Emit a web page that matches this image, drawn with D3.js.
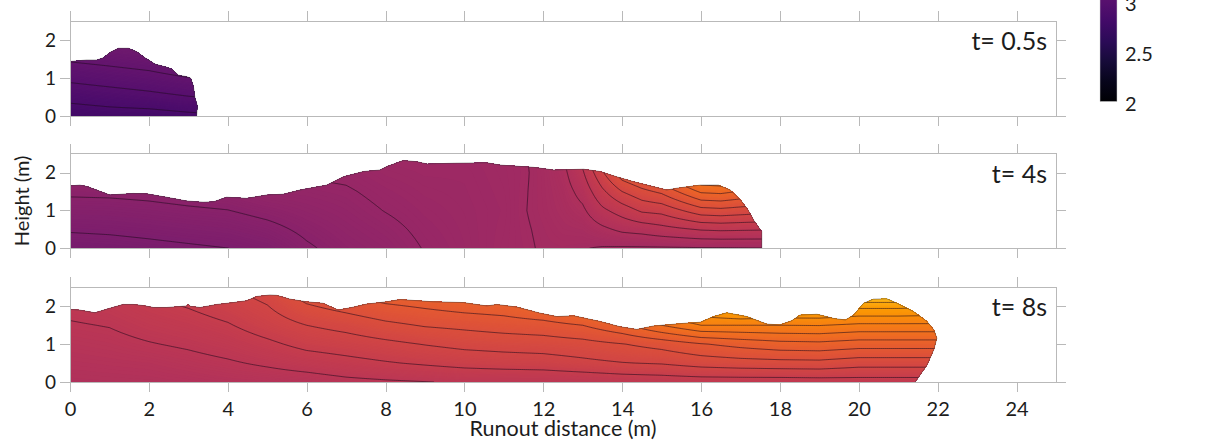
<!DOCTYPE html>
<html>
<head>
<meta charset="utf-8">
<script src="https://cdn.jsdelivr.net/npm/d3@7/dist/d3.min.js"></script>
<style>
  html, body { margin: 0; padding: 0; background: #fff; }
  svg { display: block; }
  text { font-family: Lato, "Open Sans", sans-serif; fill: #1c1c1c; }
</style>
</head>
<body>
<svg id="chart" width="1210" height="443"></svg>
<script>
// ---------- axis ticks ----------
const xTickValues = [0, 2, 4, 6, 8, 10, 12, 14, 16, 18, 20, 22, 24];
const yTickValues = [0, 1, 2];
const colorbarTickValues = [2, 2.5, 3, 3.5, 4, 4.5, 5, 5.5, 6];
const contourLevels = d3.range(2.125, 6.0001, 0.125);

// heights (m) at which each field column is sampled
const heightRows = [0, 0.5, 1, 1.5, 2, 2.5];

// ---------- t = 0.5 s ----------
const p1Label = "t= 0.5s";
const p1Surface = [[0,1.44],[0.42,1.48],[0.68,1.48],[0.85,1.54],[1.01,1.68],[1.23,1.79],[1.48,1.79],
  [1.69,1.70],[1.90,1.54],[2.16,1.37],[2.41,1.30],[2.58,1.24],[2.75,1.08],[2.96,1.04],[3.06,1.0],
  [3.13,0.78],[3.17,0.47],[3.23,0.27],[3.21,0]];
const p1Columns = [0, 1, 2, 3, 3.5];
const p1Field = [
  [2.797, 2.912, 3.027, 3.141, 3.256, 3.37],
  [2.817, 2.937, 3.054, 3.165, 3.275, 3.385],
  [2.820, 2.963, 3.081, 3.191, 3.300, 3.41],
  [2.845, 2.994, 3.120, 3.245, 3.370, 3.49],
  [2.855, 3.005, 3.130, 3.255, 3.380, 3.50]
];

// ---------- t = 4 s ----------
const p2Label = "t= 4s";
const p2Surface = [[0,1.65],[0.25,1.67],[0.44,1.63],[1.01,1.41],[1.6,1.45],[1.94,1.44],[2.45,1.35],
  [2.96,1.25],[3.38,1.22],[3.64,1.23],[3.97,1.35],[4.48,1.32],[4.99,1.41],[5.41,1.43],[5.83,1.54],
  [6.51,1.67],[6.93,1.89],[7.44,2.03],[7.86,2.07],[8.03,2.16],[8.45,2.32],[8.79,2.29],[9.05,2.23],
  [9.81,2.25],[10.57,2.26],[10.9,2.2],[11.75,2.14],[12.26,2.07],[13.02,2.09],[13.44,2.03],
  [13.86,1.89],[14.29,1.76],[15.13,1.54],[15.39,1.59],[15.98,1.67],[16.44,1.67],[16.74,1.54],
  [17.0,1.28],[17.2,1.0],[17.33,0.75],[17.54,0.44],[17.54,0]];
const p2Columns = [0, 1, 2, 3, 4, 5, 6, 7, 8, 9, 10, 11, 11.5, 12, 12.5, 13, 13.5, 14, 14.5, 15, 16, 16.5, 17.5, 18];
const p2Field = [
  [3.319, 3.386, 3.452, 3.519, 3.585, 3.652],
  [3.329, 3.393, 3.457, 3.522, 3.586, 3.650],
  [3.344, 3.406, 3.469, 3.531, 3.594, 3.656],
  [3.359, 3.422, 3.485, 3.548, 3.611, 3.674],
  [3.374, 3.436, 3.498, 3.560, 3.622, 3.684],
  [3.406, 3.469, 3.531, 3.594, 3.656, 3.719],
  [3.485, 3.523, 3.562, 3.600, 3.639, 3.677],
  [3.540, 3.565, 3.590, 3.615, 3.645, 3.675],
  [3.575, 3.600, 3.628, 3.650, 3.675, 3.700],
  [3.630, 3.645, 3.660, 3.675, 3.690, 3.705],
  [3.670, 3.675, 3.680, 3.685, 3.690, 3.700],
  [3.715, 3.710, 3.705, 3.710, 3.715, 3.720],
  [3.735, 3.740, 3.745, 3.742, 3.738, 3.740],
  [3.760, 3.765, 3.775, 3.778, 3.780, 3.790],
  [3.765, 3.790, 3.810, 3.825, 3.845, 3.870],
  [3.755, 3.800, 3.855, 3.915, 3.985, 4.060],
  [3.740, 3.850, 3.975, 4.100, 4.235, 4.380],
  [3.735, 3.900, 4.055, 4.250, 4.460, 4.670],
  [3.735, 3.920, 4.145, 4.340, 4.550, 4.750],
  [3.735, 3.955, 4.165, 4.400, 4.650, 4.900],
  [3.740, 4.010, 4.325, 4.645, 4.950, 5.250],
  [3.740, 4.020, 4.340, 4.660, 4.970, 5.280],
  [3.745, 4.010, 4.300, 4.570, 4.850, 5.100],
  [3.745, 4.010, 4.300, 4.570, 4.850, 5.100]
];

// ---------- t = 8 s ----------
const p3Label = "t= 8s";
const p3Surface = [[0,1.92],[0.25,1.9],[0.63,1.83],[1.01,1.95],[1.35,2.05],[1.6,2.05],[1.86,2.02],
  [2.11,1.97],[2.45,1.97],[2.96,2.01],[3.0,2.06],[3.05,2.0],[3.3,1.97],[3.72,2.05],[4.14,2.1],
  [4.48,2.15],[4.73,2.26],[5.07,2.3],[5.24,2.29],[5.58,2.19],[6.0,2.12],[6.42,2.08],[6.8,1.9],
  [7.19,1.98],[7.52,2.06],[8.03,2.12],[8.37,2.18],[9.21,2.12],[9.97,2.1],[10.57,2.01],[10.82,2.05],
  [11.33,1.98],[11.92,1.82],[12.34,1.73],[12.77,1.75],[13.44,1.6],[13.95,1.46],[14.37,1.39],
  [14.79,1.48],[15.56,1.55],[15.98,1.58],[16.32,1.73],[16.65,1.83],[17.16,1.73],[17.67,1.53],
  [18.0,1.51],[18.3,1.62],[18.51,1.77],[18.94,1.79],[19.36,1.68],[19.66,1.64],[19.87,1.77],
  [20.12,2.08],[20.37,2.19],[20.71,2.2],[20.97,2.08],[21.39,1.86],[21.73,1.6],[21.9,1.38],
  [21.98,1.16],[21.9,0.85],[21.73,0.45],[21.43,0]];
const p3Columns = [0, 1, 2, 3, 4, 5, 6, 7, 8, 9, 10, 11, 12, 13, 14, 15, 16, 17, 18, 19, 20, 21, 22];
const p3Field = [
  [3.880, 3.915, 3.950, 3.990, 4.030, 4.070],
  [3.885, 3.925, 3.965, 4.005, 4.050, 4.090],
  [3.890, 3.935, 3.993, 4.045, 4.095, 4.145],
  [3.903, 3.960, 4.017, 4.074, 4.131, 4.188],
  [3.921, 3.986, 4.050, 4.115, 4.180, 4.244],
  [3.930, 4.018, 4.100, 4.185, 4.245, 4.310],
  [3.940, 4.055, 4.160, 4.250, 4.360, 4.470],
  [3.970, 4.086, 4.187, 4.290, 4.420, 4.550],
  [3.985, 4.115, 4.220, 4.345, 4.480, 4.620],
  [3.997, 4.140, 4.255, 4.385, 4.515, 4.650],
  [4.010, 4.165, 4.285, 4.405, 4.550, 4.700],
  [4.010, 4.180, 4.300, 4.430, 4.570, 4.720],
  [4.010, 4.190, 4.310, 4.450, 4.640, 4.850],
  [4.020, 4.220, 4.330, 4.500, 4.750, 5.000],
  [4.040, 4.245, 4.370, 4.600, 4.850, 5.100],
  [4.050, 4.260, 4.420, 4.750, 5.000, 5.250],
  [4.060, 4.300, 4.490, 4.875, 5.150, 5.400],
  [4.060, 4.320, 4.540, 4.875, 5.250, 5.500],
  [4.060, 4.330, 4.580, 4.875, 5.200, 5.500],
  [4.065, 4.335, 4.590, 4.880, 5.200, 5.550],
  [4.070, 4.300, 4.560, 4.850, 5.160, 5.600],
  [4.070, 4.300, 4.560, 4.850, 5.160, 5.600],
  [4.070, 4.300, 4.560, 4.850, 5.140, 5.500]
];

const panels = [
  { label: p1Label, surface: p1Surface, columns: p1Columns, field: p1Field },
  { label: p2Label, surface: p2Surface, columns: p2Columns, field: p2Field },
  { label: p3Label, surface: p3Surface, columns: p3Columns, field: p3Field }
];

// ---------- layout ----------
const panelBottoms = [116, 248.3, 382];
const panelHeight = 94.6;
const axisColor = "#b9b9b9";
const intFormat = d3.format("~g");

const svg = d3.select("#chart");
const defs = svg.append("defs");
const x = d3.scaleLinear().domain([0, 25]).range([70, 1056]);
const color = d3.scaleSequential(d3.interpolateInferno).domain([2, 6]);

// bilinear lookup in a column/row table, clamped at the edges
function fieldAt(p, xv, hv) {
  const cols = p.columns, rows = heightRows;
  const xc = Math.max(cols[0], Math.min(cols[cols.length - 1], xv));
  const hc = Math.max(rows[0], Math.min(rows[rows.length - 1], hv));
  let i = Math.min(Math.max(d3.bisectRight(cols, xc) - 1, 0), cols.length - 2);
  let j = Math.min(Math.max(d3.bisectRight(rows, hc) - 1, 0), rows.length - 2);
  const tx = (xc - cols[i]) / (cols[i + 1] - cols[i]);
  const th = (hc - rows[j]) / (rows[j + 1] - rows[j]);
  const a = p.field[i][j] * (1 - th) + p.field[i][j + 1] * th;
  const b = p.field[i + 1][j] * (1 - th) + p.field[i + 1][j + 1] * th;
  return a * (1 - tx) + b * tx;
}

panels.forEach((p, k) => {
  const bottom = panelBottoms[k];
  const y = d3.scaleLinear().domain([0, 2.5]).range([bottom, bottom - panelHeight]);
  const g = svg.append("g");
  const line = d3.line().x(d => x(d[0])).y(d => y(d[1]));

  // flow body outline used as clip
  const body = [[p.surface[0][0], 0], ...p.surface];
  defs.append("clipPath").attr("id", "flow" + k)
    .append("path").attr("d", line(body) + "Z");

  // sample the field on a fine grid
  const dx = 0.05, dh = 0.025, gx0 = -0.5, gh0 = -0.3;
  const xmax = d3.max(p.surface, d => d[0]) + 0.5;
  const n = Math.ceil((xmax - gx0) / dx) + 1;
  const m = Math.ceil((2.8 - gh0) / dh) + 1;
  const values = new Float64Array(n * m);
  for (let j = 0; j < m; j++)
    for (let i = 0; i < n; i++)
      values[i + j * n] = fieldAt(p, gx0 + i * dx, gh0 + j * dh);
  const [vmin, vmax] = d3.extent(values);

  const proj = d3.geoTransform({
    point(px, py) { this.stream.point(x(gx0 + (px - 0.5) * dx), y(gh0 + (py - 0.5) * dh)); }
  });
  const path = d3.geoPath(proj);

  const gFlow = g.append("g").attr("clip-path", `url(#flow${k})`);
  const bands = d3.contours().size([n, m]).thresholds(d3.range(vmin, vmax, 0.008))(values);
  gFlow.selectAll("path.band").data(bands).join("path")
    .attr("class", "band")
    .attr("d", path)
    .attr("fill", d => color(d.value + 0.004));

  const isolines = d3.contours().size([n, m])
    .thresholds(contourLevels.filter(v => v > vmin && v < vmax))(values);
  gFlow.selectAll("path.iso").data(isolines).join("path")
    .attr("class", "iso")
    .attr("d", path)
    .attr("fill", "none")
    .attr("stroke", "#1e0a1c")
    .attr("stroke-opacity", 0.7)
    .attr("stroke-width", 0.8);

  g.append("path").attr("d", line(p.surface))
    .attr("fill", "none").attr("stroke", "#3c3c3c")
    .attr("stroke-opacity", 0.55).attr("stroke-width", 0.8);

  // axes box and ticks
  g.append("rect")
    .attr("x", x(0)).attr("y", y(2.5))
    .attr("width", x(25) - x(0)).attr("height", y(0) - y(2.5))
    .attr("fill", "none").attr("stroke", axisColor).attr("shape-rendering", "crispEdges");

  const axB = d3.axisBottom(x).tickValues(xTickValues).tickSizeInner(10).tickSizeOuter(0).tickPadding(10);
  if (k < panels.length - 1) axB.tickFormat("");
  const gB = g.append("g").attr("transform", `translate(0,${bottom})`).call(axB)
    .attr("color", axisColor).attr("font-size", 20);
  const axT = d3.axisTop(x).tickValues(xTickValues).tickSizeInner(10).tickSizeOuter(0).tickFormat("");
  const gT = g.append("g").attr("transform", `translate(0,${y(2.5)})`).call(axT).attr("color", axisColor);
  const axL = d3.axisLeft(y).tickValues(yTickValues).tickSizeInner(10).tickSizeOuter(0)
    .tickPadding(4).tickFormat(intFormat);
  const gL = g.append("g").attr("transform", `translate(${x(0)},0)`).call(axL)
    .attr("color", axisColor).attr("font-size", 19);
  const axR = d3.axisRight(y).tickValues(yTickValues).tickSizeInner(10).tickSizeOuter(0).tickFormat("");
  const gR = g.append("g").attr("transform", `translate(${x(25)},0)`).call(axR).attr("color", axisColor);
  [gB, gT, gL, gR].forEach(a => {
    a.select(".domain").remove();
    a.selectAll("line").attr("shape-rendering", "crispEdges");
  });

  g.append("text")
    .attr("x", 1047).attr("y", y(2.5) + 29)
    .attr("text-anchor", "end").attr("font-size", 25)
    .text(p.label);
});

// axis titles
svg.append("text")
  .attr("x", (x(0) + x(25)) / 2).attr("y", 436)
  .attr("text-anchor", "middle").attr("font-size", 21.5)
  .text("Runout distance (m)");
svg.append("text")
  .attr("transform", "translate(29,201) rotate(-90)")
  .attr("text-anchor", "middle").attr("font-size", 20)
  .text("Height (m)");

// colour bar
const cb = d3.scaleLinear().domain([2, 6]).range([101.5, -298.5]);
const grad = defs.append("linearGradient").attr("id", "cbar")
  .attr("x1", 0).attr("y1", 1).attr("x2", 0).attr("y2", 0);
d3.range(0, 1.0001, 0.05).forEach(t => {
  grad.append("stop").attr("offset", t).attr("stop-color", color(2 + 4 * t));
});
svg.append("rect")
  .attr("x", 1100).attr("y", cb(6))
  .attr("width", 17).attr("height", cb(2) - cb(6))
  .attr("fill", "url(#cbar)")
  .attr("stroke", "#cfcfcf").attr("stroke-width", 0.5);
const gC = svg.append("g").attr("transform", "translate(1117,0)")
  .call(d3.axisRight(cb).tickValues(colorbarTickValues).tickSize(0).tickPadding(8).tickFormat(intFormat))
  .attr("font-size", 20);
gC.select(".domain").remove();
gC.selectAll("text").attr("dy", "0.44em");
</script>
</body>
</html>
